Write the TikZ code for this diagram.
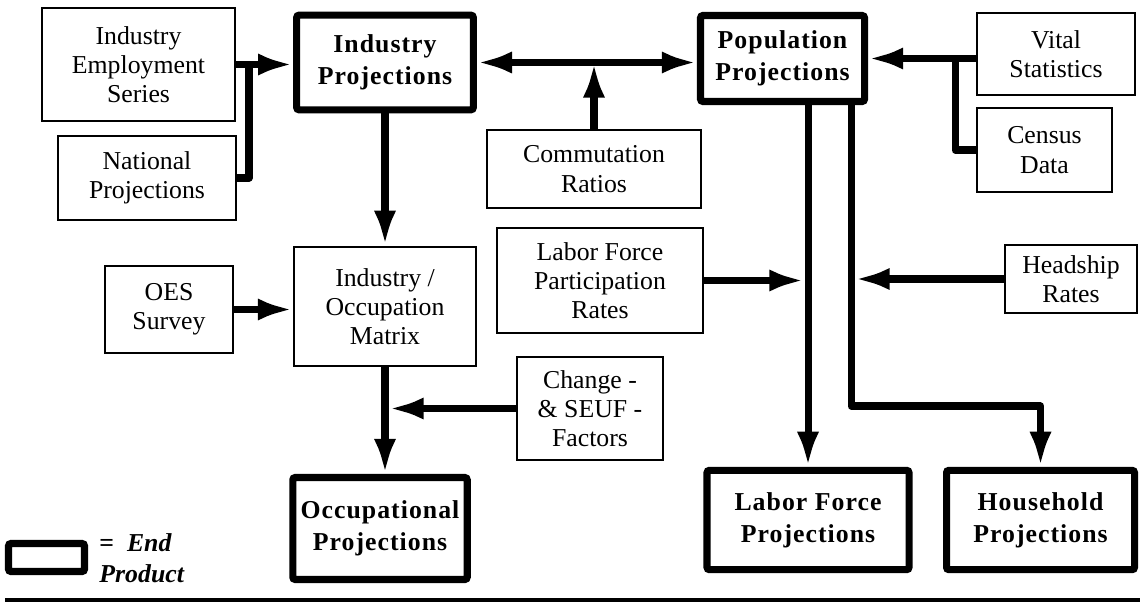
\documentclass[tikz,border=0pt]{standalone}
\usepackage{fontspec}
\setmainfont{Liberation Serif}
\usetikzlibrary{arrows.meta, positioning}

\tikzset{
  box/.style={draw, line width=0.9pt, align=center, inner sep=2pt,
    font=\fontsize{11}{12.5}\selectfont},
  endbox/.style={draw, line width=3pt, align=center, rounded corners=1pt,
    font=\fontsize{11}{13.5}\selectfont\bfseries\addfontfeature{LetterSpace=4}},
  tip/.tip={Latex[length=15pt,width=9.5pt]},
  flow/.style={line width=3pt, line join=round, -tip},
  joint/.style={line width=3pt, line join=round}
}

\begin{document}
\begin{tikzpicture}[x=0.15mm, y=-0.15mm]
  \useasboundingbox (0,0) rectangle (1140,607);

  % inputs and products
  \node[box, minimum width=2.9cm, minimum height=1.69cm] (ies) at (138.5,64.5) {Industry\\Employment\\Series};
  \node[box, minimum width=2.67cm, minimum height=1.26cm] (nat) at (147,178) {National\\Projections};
  \node[endbox, minimum width=2.65cm, minimum height=1.42cm] (indproj) at (385,62.5) {Industry\\Projections};
  \node[box, minimum width=3.2cm, minimum height=1.17cm] (comm) at (594,169) {Commutation\\Ratios};
  \node[endbox, minimum width=2.46cm, minimum height=1.29cm] (popproj) at (782.5,58.5) {Population\\Projections};
  \node[box, minimum width=2.37cm, minimum height=1.23cm] (vital) at (1056,54) {Vital\\Statistics};
  \node[box, minimum width=2.03cm, minimum height=1.26cm] (census) at (1044.5,150) {Census\\Data};
  \node[box, minimum width=3.09cm, minimum height=1.58cm] (lfpr) at (600,280.5) {Labor Force\\Participation\\Rates};
  \node[box, minimum width=1.98cm, minimum height=1.02cm] (headship) at (1071,279) {Headship\\Rates};
  \node[box, minimum width=1.92cm, minimum height=1.3cm] (oes) at (169,309.5) {OES\\Survey};
  \node[box, minimum width=2.73cm, minimum height=1.79cm] (matrix) at (385,306.5) {Industry /\\Occupation\\Matrix};
  \node[box, minimum width=2.19cm, minimum height=1.55cm] (change) at (590,408.5) {Change -\\\& SEUF -\\Factors};
  \node[endbox, minimum width=2.58cm, minimum height=1.53cm] (occproj) at (380,528.5) {Occupational\\Projections};
  \node[endbox, minimum width=3.03cm, minimum height=1.49cm] (lfproj) at (808,520) {Labor Force\\Projections};
  \node[endbox, minimum width=2.82cm, minimum height=1.49cm] (hhproj) at (1040.5,520) {Household\\Projections};

  % legend
  \node[endbox, minimum width=1.14cm, minimum height=0.42cm, inner sep=0pt] (legend) at (46.5,557.5) {};
  \node[anchor=north west, align=left, inner sep=0pt,
    font=\fontsize{11}{13.5}\selectfont\bfseries\itshape] (legendtxt) at (99,533)
    {{\normalfont\bfseries =}\ \ End\\Product};

  % junctions
  \coordinate (jnat) at (249,64.5);
  \coordinate (jcen) at (955,58.5);
  \coordinate (jhh) at (851,406);

  % connectors
  \draw[flow] (ies.east) -- (ies.east -| indproj.west);
  \draw[joint] (nat.east) -| (jnat);
  \draw[flow, tip-tip] (indproj.east) -- (indproj.east -| popproj.west);
  \draw[flow] (comm.north) -- (comm.north |- indproj.east);
  \draw[flow] (popproj.east -| vital.west) -- (popproj.east);
  \draw[joint] (census.west) -| (jcen);
  \draw[flow] (indproj.south) -- (matrix.north);
  \draw[flow] (oes.east) -- (oes.east -| matrix.west);
  \draw[flow] (matrix.south) -- (matrix.south |- occproj.north);
  \draw[flow, shorten >=1.5pt] (change.west) -- (change.west -| matrix.south);
  \draw[flow] (popproj.south -| lfproj.north) -- (lfproj.north);
  \draw[flow] (popproj.south -| jhh) -- (jhh) -| (hhproj.north);
  \draw[flow, shorten >=1.5pt] (lfpr.east) -- (lfpr.east -| lfproj.north);
  \draw[flow, shorten >=1.5pt] (headship.west) -- (headship.west -| jhh);

  % bottom rule
  \draw[line width=2pt] (5,600) -- (1140,600);
\end{tikzpicture}
\end{document}
